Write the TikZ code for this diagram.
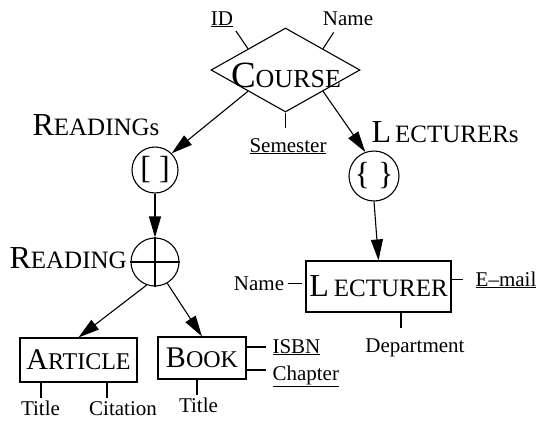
\documentclass[tikz,border=0pt]{standalone}
\usepackage{fontspec}
\setmainfont{Liberation Serif}
\usetikzlibrary{arrows.meta,shapes.geometric}
\newcommand{\fsz}[2]{{\fontsize{#1}{#1}\selectfont #2}}
\begin{document}
\begin{tikzpicture}[x=1pt,y=-1pt,line width=1.1pt,
  attr/.style={font=\fontsize{21}{21}\selectfont,inner sep=0pt,anchor=base},
  conn/.style={-{Triangle[length=21pt,width=12pt]}},
  ent/.style={draw,rectangle,inner sep=0pt},
  coll/.style={draw,circle,inner sep=0pt},
  lbl/.style={inner sep=0pt,anchor=base west}]
\useasboundingbox (0,0) rectangle (539,421);

% relationship
\node[draw,diamond,inner sep=0pt,minimum width=149pt,minimum height=84pt] (course) at (285.5,70) {};
\node[inner sep=0pt,anchor=base] (coursename) at (286,87) {\fsz{37}{C}\fsz{26}{OURSE}};
\node[attr] (id) at (222,25) {\underline{ID}};
\node[attr] (cname) at (348,25) {Name};
\node[attr] (sem) at (288,152) {\underline{Semester}};
\draw[shorten <=4pt] (id.south east) -- (course.north west);
\draw[shorten <=8pt] ([xshift=-10pt]cname.south) -- (course.north east);
\draw[shorten >=9.5pt] (course.south) -- (course.south |- sem.north);

% collections
\node[coll,minimum size=46pt] (list) at (155,170) {\fsz{32}{[ ]}};
\node[coll,minimum size=50pt] (set) at (374,176) {\fsz{32}{\{ \}}};
\node[coll,minimum size=48pt] (reading) at (155,262) {};
\draw (reading.north) -- (reading.south) (reading.west) -- (reading.east);

\node[lbl] (readingsl) at (32,135) {\fsz{32}{R}\fsz{25}{EADINGs}};
\node[lbl] (lecturersl) at (371,142) {\fsz{32}{L}\hspace{4pt}\fsz{25}{ECTURERs}};
\node[lbl] (readingl) at (9,268) {\fsz{32}{R}\fsz{25}{EADING}};

% entities
\node[ent,minimum width=117pt,minimum height=44pt] (article) at (78.5,360) {\fsz{30}{A}\fsz{24}{RTICLE}};
\node[ent,minimum width=88pt,minimum height=42pt] (book) at (202,358) {\fsz{30}{B}\fsz{24}{OOK}};
\node[ent,minimum width=145pt,minimum height=51pt] (lect) at (378.5,286.5) {\fsz{32}{L}\hspace{5pt}\fsz{25}{ECTURER}};

% arrows
\draw[conn] (course.south west) -- (list.north east);
\draw[conn] (course.south east) -- (set.110);
\draw[conn] (list.south) -- (reading.north);
\draw[conn] (reading.250) -- (article.north);
\draw[conn] (reading.300) -- (book.north);
\draw[conn] (set.south) -- (lect.north);

% lecturer attributes
\node[attr] (lname) at (259,290) {Name};
\node[attr] (email) at (506,286) {\underline{E–mail}};
\node[attr] (dept) at (415,352) {Department};
\draw[shorten <=3pt,shorten >=3pt] (lname.east) -- (lname.east -| lect.west);
\draw (lect.east |- email.west) -- ([xshift=-12pt]email.west);
\draw ([xshift=22.5pt]lect.south) -- ++(0,15);

% book attributes
\node[attr,anchor=base west] (isbn) at (272,353) {\underline{ISBN}};
\node[attr,anchor=base west] (chap) at (272,380) {\underline{Chapter}};
\draw ([yshift=11pt]book.east) -- ++(19,0);
\draw ([yshift=-12pt]book.east) -- ++(19,0);

% article / book attributes
\node[attr] (t1) at (40.5,415) {Title};
\node[attr] (cit) at (123,415) {Citation};
\node[attr] (t2) at (198.5,412) {Title};
\draw ([xshift=-37.5pt]article.south) -- ++(0,15);
\draw ([xshift=28.5pt]article.south) -- ++(0,15);
\draw ([xshift=-5pt]book.south) -- ++(0,15);
\end{tikzpicture}
\end{document}
